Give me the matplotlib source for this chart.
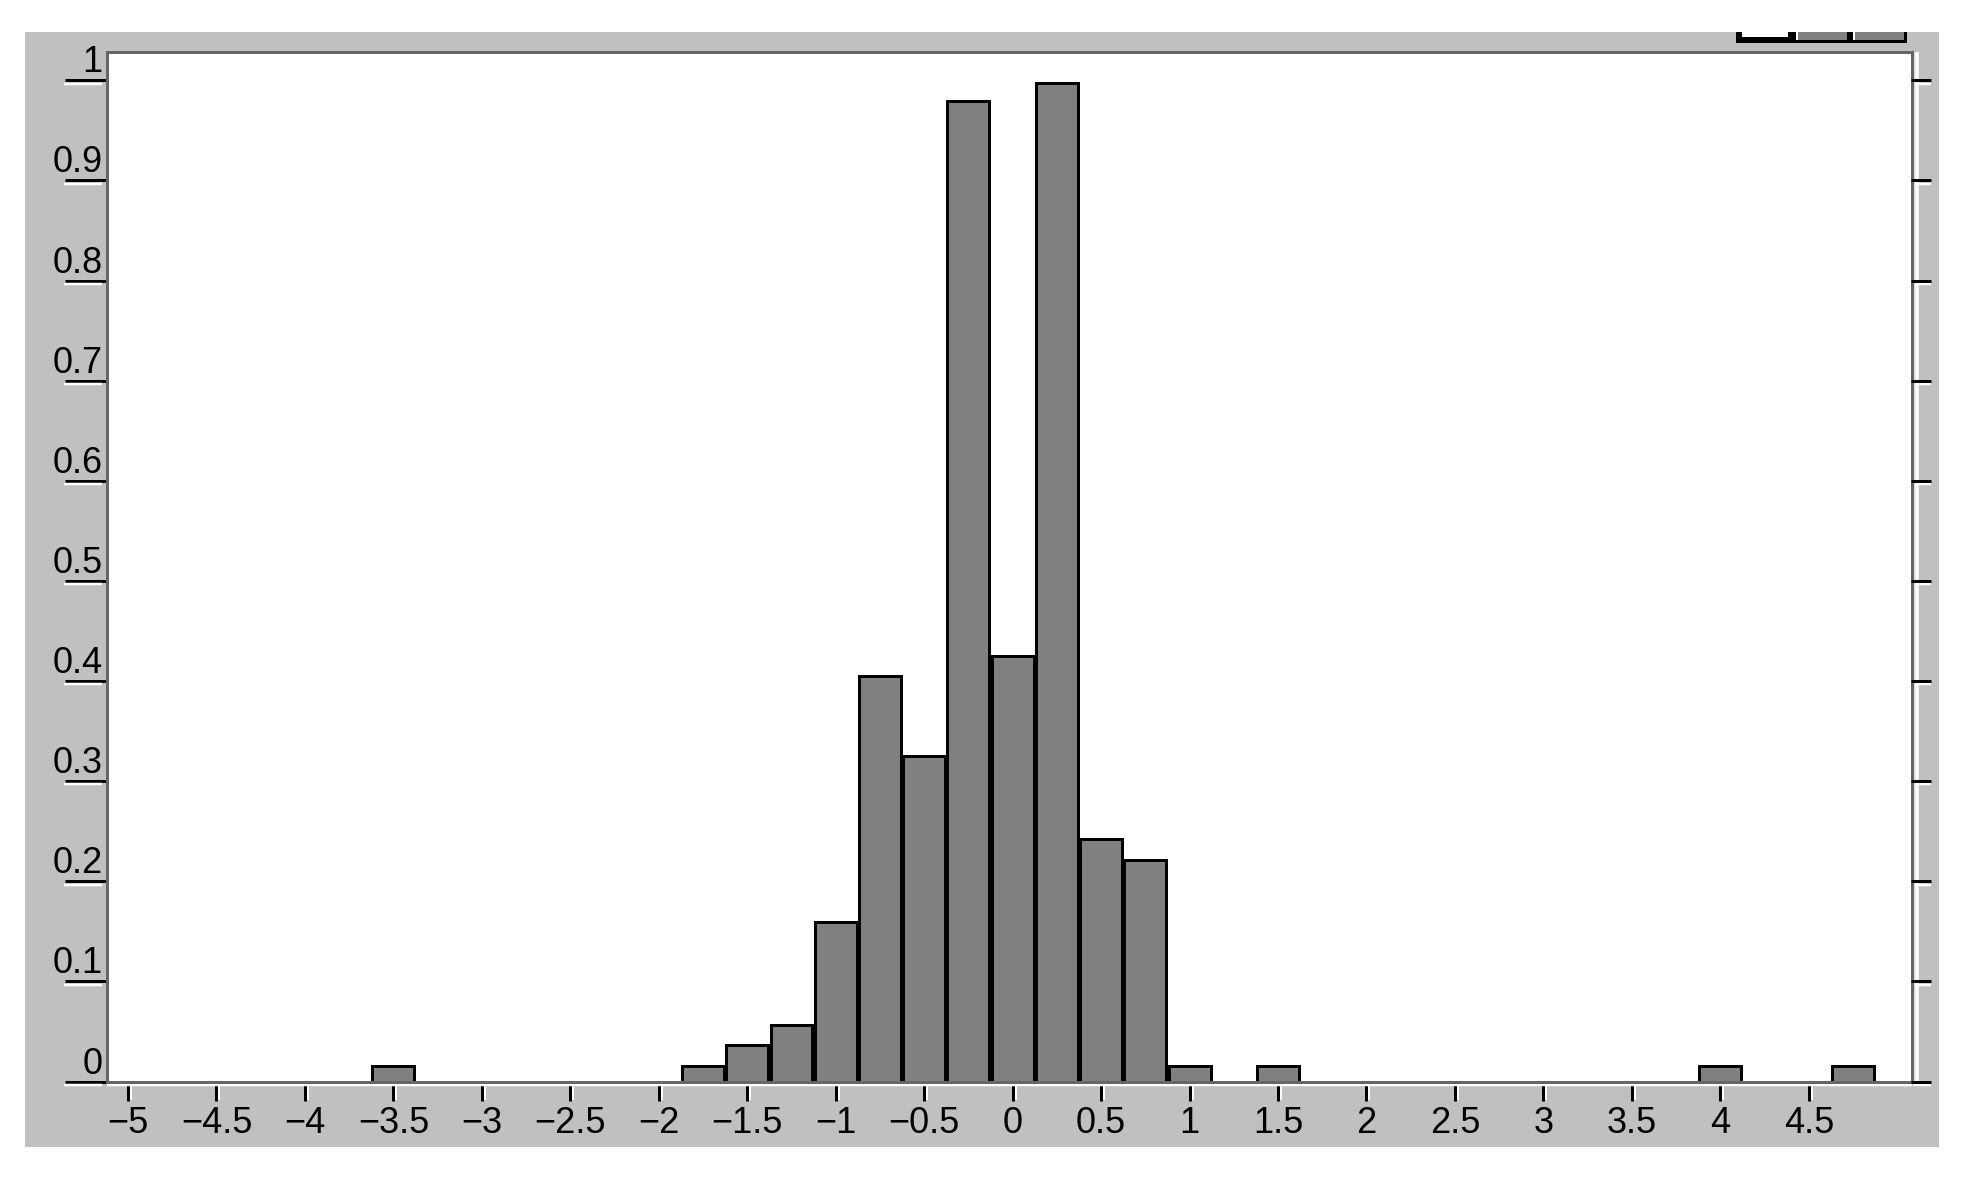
import matplotlib
matplotlib.use("Agg")
import matplotlib.pyplot as plt
from matplotlib.patches import Rectangle
from matplotlib.transforms import offset_copy

# Histogram data (bin centres and normalised heights)
bin_centers = [-3.5, -1.75, -1.5, -1.25, -1.0, -0.75, -0.5, -0.25,
               0.0, 0.25, 0.5, 0.75, 1.0, 1.5, 4.0, 4.75]
bin_heights = [0.015, 0.015, 0.036, 0.056, 0.159, 0.405, 0.325, 0.979,
               0.425, 0.997, 0.242, 0.2215, 0.015, 0.015, 0.015, 0.015]
BIN_WIDTH = 0.237

xtick_vals = [-5, -4.5, -4, -3.5, -3, -2.5, -2, -1.5, -1, -0.5,
              0, 0.5, 1, 1.5, 2, 2.5, 3, 3.5, 4, 4.5]
xtick_labels = ["\u22125", "\u22124.5", "\u22124", "\u22123.5", "\u22123", "\u22122.5",
                "\u22122", "\u22121.5", "\u22121", "\u22120.5", "0", "0.5", "1", "1.5",
                "2", "2.5", "3", "3.5", "4", "4.5"]
ytick_vals = [0, 0.1, 0.2, 0.3, 0.4, 0.5, 0.6, 0.7, 0.8, 0.9, 1]
ytick_labels = ["0", "0.1", "0.2", "0.3", "0.4", "0.5", "0.6", "0.7", "0.8", "0.9", "1"]

# Layout (pixels of the 1964x1178 output)
W, H = 1964, 1178
PX = 72 / 100  # points per pixel at dpi 100
PANEL = "#c0c0c0"
SPINE = "#666666"

plt.rcParams['font.family'] = ['Liberation Sans Narrow', 'Liberation Sans', 'DejaVu Sans']

fig = plt.figure(figsize=(W / 100, H / 100), dpi=100, facecolor="white")


def px_rect(x0, y0, x1, y1, color, z=0):
    """rectangle given in image pixels (y down)"""
    fig.patches.append(Rectangle((x0 / W, 1 - y1 / H), (x1 - x0) / W, (y1 - y0) / H,
                                 transform=fig.transFigure, facecolor=color,
                                 edgecolor="none", zorder=z))


# grey window panel
px_rect(25, 32, 1939, 1147, PANEL, z=-5)
# the window buttons peeking in at the top right
px_rect(1736, 32, 1907, 43, "black", z=-4)
px_rect(1742, 32, 1788, 37, "white", z=-3)
px_rect(1796, 32, 1847, 40, "#808080", z=-3)
px_rect(1853, 32, 1904, 40, "#808080", z=-3)
px_rect(1796, 32, 1798, 40, "white", z=-2)
px_rect(1853, 32, 1855, 40, "white", z=-2)

left, right, top, bottom = 106.5, 1911.5, 52.3, 1081.5
ax = fig.add_axes([left / W, 1 - bottom / H, (right - left) / W, (bottom - top) / H])
ax.set_facecolor("white")

ax.bar(bin_centers, bin_heights, width=BIN_WIDTH, color="#808080",
       edgecolor="black", linewidth=3 * PX)

ax.set_xlim(-5.1215, 5.0805)
ax.set_ylim(0, 1.028)

for s in ax.spines.values():
    s.set_color(SPINE)
    s.set_linewidth(3 * PX)

ax.set_xticks(xtick_vals)
ax.set_xticklabels(xtick_labels)
ax.set_yticks(ytick_vals)
ax.set_yticklabels(ytick_labels)
ax.tick_params(axis="x", direction="out", length=18.5 * PX, width=3 * PX,
               color="black", pad=4, labelsize=26)
ax.tick_params(axis="y", direction="out", length=42.5 * PX, width=3 * PX,
               color="black", pad=-38.5 * PX, labelsize=26)
for lbl in ax.get_yticklabels():
    lbl.set_verticalalignment("bottom")

# right-hand ticks
ax2 = ax.twinx()
ax2.set_ylim(ax.get_ylim())
ax2.set_yticks(ytick_vals)
ax2.tick_params(axis="y", direction="out", length=19.5 * PX, width=3 * PX,
                color="black", labelright=False)
for s in ax2.spines.values():
    s.set_visible(False)

# 3D highlight lines (white) of the old style widget
aw, ah = right - left, bottom - top
ytr = offset_copy(ax.get_yaxis_transform(), fig=fig, y=-3.3, units="dots")
xtr = offset_copy(ax.get_xaxis_transform(), fig=fig, x=3, units="dots")
for yv in ytick_vals:
    ax.plot([-42.5 / aw, -4.5 / aw], [yv, yv], transform=ytr, color="white",
            lw=2.5 * PX, clip_on=False, solid_capstyle="butt")
    ax.plot([1 + 1.5 / aw, 1 + 19.5 / aw], [yv, yv], transform=ytr, color="white",
            lw=2.5 * PX, clip_on=False, solid_capstyle="butt")
for xv in xtick_vals:
    ax.plot([xv, xv], [-3 / ah, -18.5 / ah], transform=xtr, color="white",
            lw=2 * PX, clip_on=False, solid_capstyle="butt")
ax.plot([0, 1], [-3.2 / ah, -3.2 / ah], transform=ax.transAxes, color="white",
        lw=2.5 * PX, clip_on=False, solid_capstyle="butt")
ax.plot([1 + 5.5 / aw, 1 + 5.5 / aw], [0, 1], transform=ax.transAxes, color="white",
        lw=3.5 * PX, clip_on=False, solid_capstyle="butt")
ax.plot([1 + 2.5 / aw, 1 + 2.5 / aw], [0, 1], transform=ax.transAxes, color="#dcdcdc",
        lw=2 * PX, clip_on=False, solid_capstyle="butt")

fig.savefig("out.png", dpi=100, facecolor="white")
